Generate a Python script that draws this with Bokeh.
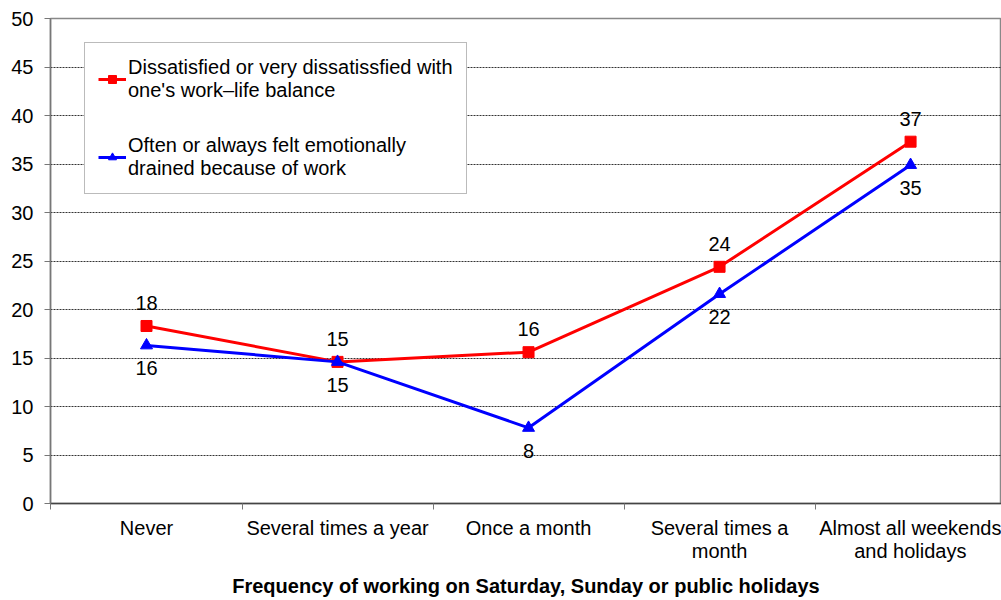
from bokeh.plotting import figure
from bokeh.models import FixedTicker, Range1d, Legend, LegendItem, ColumnDataSource
from bokeh.core.properties import value
from bokeh.embed import file_html
from bokeh.resources import INLINE

categories = ["Never", "Several times a year", "Once a month",
              "Several times a\nmonth", "Almost all weekends\nand holidays"]
dissatisfied = [18.3, 14.6, 15.6, 24.4, 37.3]
drained = [16.3, 14.6, 7.8, 21.6, 34.9]
name_dissatisfied = "Dissatisfied or very dissatissfied with\none's work\u2013life balance"
name_drained = "Often or always felt emotionally\ndrained because of work"
y_ticks = [0, 5, 10, 15, 20, 25, 30, 35, 40, 45, 50]
x_title = "Frequency of working on Saturday, Sunday or public holidays"

FONT = "Liberation Sans"
FS = "20px"
xs = list(range(len(categories)))

p = figure(width=1001, height=600, output_backend="svg", toolbar_location=None,
           x_range=Range1d(-0.5026, 4.476), y_range=Range1d(0, 50),
           min_border_left=50, min_border_right=0, min_border_top=18, min_border_bottom=97)
p.background_fill_color = "white"
p.border_fill_color = "white"
p.outline_line_color = "#888888"
p.outline_line_width = 1.5

# grid
p.xgrid.visible = False
p.ygrid.ticker = FixedTicker(ticks=y_ticks[1:-1])
p.ygrid.grid_line_color = "#333333"
p.ygrid.grid_line_dash = "2 1"
p.ygrid.grid_line_width = 1

# y axis
p.yaxis.ticker = FixedTicker(ticks=y_ticks)
p.yaxis.axis_line_color = "#777777"
p.yaxis.axis_line_width = 1.5
p.yaxis.major_tick_line_color = "#777777"
p.yaxis.major_tick_out = 6
p.yaxis.major_tick_in = 0
p.yaxis.minor_tick_line_color = None
p.yaxis.major_label_standoff = 11
p.yaxis.major_label_text_font = FONT
p.yaxis.major_label_text_font_size = FS
p.yaxis.major_label_text_color = "black"

# x axis
p.xaxis.ticker = FixedTicker(ticks=xs, minor_ticks=[-0.5, 0.5, 1.5, 2.5, 3.5, 4.5])
p.xaxis.major_label_overrides = {i: c for i, c in enumerate(categories)}
p.xaxis.axis_line_color = "#444444"
p.xaxis.axis_line_width = 1.5
p.xaxis.major_tick_line_color = None
p.xaxis.minor_tick_line_color = "#777777"
p.xaxis.minor_tick_out = 6
p.xaxis.minor_tick_in = 0
p.xaxis.major_label_standoff = 7
p.xaxis.major_label_text_font = FONT
p.xaxis.major_label_text_font_size = FS
p.xaxis.major_label_text_color = "black"
p.xaxis.major_label_text_line_height = 1.05
p.xaxis.axis_label = x_title
p.xaxis.axis_label_text_font = FONT
p.xaxis.axis_label_text_font_size = FS
p.xaxis.axis_label_text_font_style = "bold"
p.xaxis.axis_label_text_color = "black"
p.xaxis.axis_label_standoff = 10

src = ColumnDataSource(dict(
    x=xs, red=dissatisfied, blue=drained,
    red_lbl=[str(int(v + 0.5)) for v in dissatisfied],
    blue_lbl=[str(int(v + 0.5)) for v in drained],
))

r_line = p.line("x", "red", source=src, line_color="#FF0000", line_width=3)
r_mark = p.scatter("x", "red", source=src, marker="square", size=11,
                   fill_color="#FF0000", line_color="#FF0000")
b_line = p.line("x", "blue", source=src, line_color="#0000FF", line_width=3)
b_mark = p.scatter("x", "blue", source=src, marker="triangle", size=12,
                   fill_color="#0000FF", line_color="#0000FF")

p.text("x", "red", text="red_lbl", source=src, y_offset=-23,
       text_align="center", text_baseline="middle",
       text_font=value(FONT), text_font_size=FS, text_color="black")
p.text("x", "blue", text="blue_lbl", source=src, y_offset=23,
       text_align="center", text_baseline="middle",
       text_font=value(FONT), text_font_size=FS, text_color="black")

legend = Legend(items=[
    LegendItem(label=name_dissatisfied, renderers=[r_line, r_mark]),
    LegendItem(label=name_drained, renderers=[b_line, b_mark]),
], location=(34, 309))
legend.label_text_font = FONT
legend.label_text_font_size = FS
legend.label_text_color = "black"
legend.label_text_line_height = 1.15
legend.border_line_color = "#777777"
legend.border_line_width = 1.5
legend.background_fill_color = "white"
legend.background_fill_alpha = 1
legend.glyph_width = 28
legend.glyph_height = 20
legend.label_standoff = 2
legend.spacing = 32
legend.padding = 13
legend.margin = 0
p.add_layout(legend, "center")

open("out.html", "w").write(file_html(p, INLINE))
